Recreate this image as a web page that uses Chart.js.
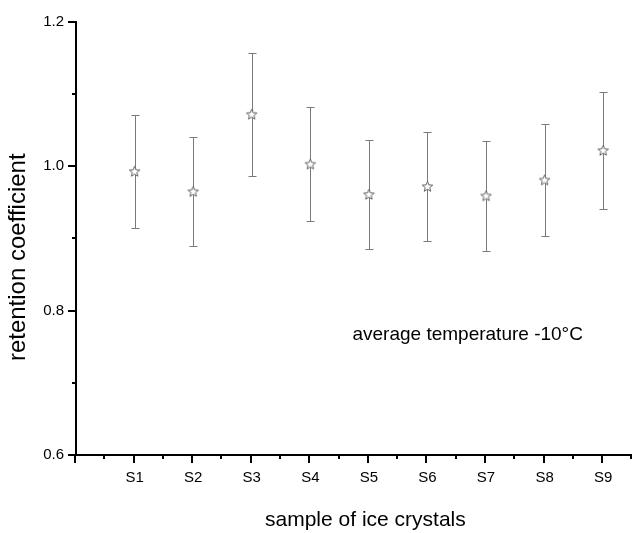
<!DOCTYPE html>
<html>
<head>
<meta charset="utf-8">
<script src="https://cdn.jsdelivr.net/npm/chart.js@4.4.0/dist/chart.umd.min.js"></script>
<style>body{margin:0;background:#fff}</style>
</head>
<body>
<canvas id="myChart" width="636" height="533"></canvas>
<script>
const categories = ['S1', 'S2', 'S3', 'S4', 'S5', 'S6', 'S7', 'S8', 'S9'];
const means = [0.993, 0.965, 1.072, 1.003, 0.961, 0.972, 0.959, 0.981, 1.022];
const errors = [0.078, 0.076, 0.085, 0.079, 0.075, 0.076, 0.076, 0.077, 0.081];
const yTicks = [0.6, 0.8, 1.0, 1.2];

const FONT = '"Liberation Sans", Arial, sans-serif';
const grey = '#7a7a7a';

// open star marker, white inside so the bar line stops at it
function makeStar() {
    const c = document.createElement('canvas');
    c.width = 13;
    c.height = 13;
    const g = c.getContext('2d');
    g.beginPath();
    for (let k = 0; k < 10; k++) {
        const r = k % 2 == 0 ? 5.5 : 2.4;
        const a = -Math.PI / 2 + k * Math.PI / 5;
        const px = 6.5 + r * Math.cos(a), py = 6.8 + r * Math.sin(a);
        if (k == 0) g.moveTo(px, py); else g.lineTo(px, py);
    }
    g.closePath();
    g.fillStyle = '#fff';
    g.fill();
    g.strokeStyle = '#555';
    g.lineWidth = 0.9;
    g.stroke();
    return c;
}

const errorBars = {
    id: 'errorBars',
    beforeDatasetsDraw(chart) {
        const {ctx, scales: {x, y}} = chart;
        ctx.save();
        ctx.strokeStyle = grey;
        ctx.lineWidth = 1;
        for (let i = 0; i < means.length; i++) {
            const px = Math.round(x.getPixelForValue(i + 1)) + 0.5;
            const top = Math.round(y.getPixelForValue(means[i] + errors[i])) + 0.5;
            const bot = Math.round(y.getPixelForValue(means[i] - errors[i])) + 0.5;
            ctx.beginPath();
            ctx.moveTo(px, top);
            ctx.lineTo(px, bot);
            ctx.moveTo(px - 4, top);
            ctx.lineTo(px + 4, top);
            ctx.moveTo(px - 4, bot);
            ctx.lineTo(px + 4, bot);
            ctx.stroke();
        }
        ctx.restore();
    }
};

const tickMarks = {
    id: 'tickMarks',
    afterDraw(chart) {
        const {ctx, scales: {x, y}, chartArea} = chart;
        ctx.save();
        ctx.strokeStyle = '#000';
        ctx.lineWidth = 2;
        ctx.beginPath();
        for (let v = 6; v <= 12; v++) {
            const py = Math.round(y.getPixelForValue(v / 10));
            const len = v % 2 == 0 ? 8 : 4;
            ctx.moveTo(chartArea.left, py);
            ctx.lineTo(chartArea.left - len, py);
        }
        for (let v = 0; v <= 19; v++) {
            const px = Math.round(x.getPixelForValue(v / 2));
            if (px > chart.width) break;
            const len = v % 2 == 0 ? 8 : 4;
            ctx.moveTo(px - 1, chartArea.bottom);
            ctx.lineTo(px - 1, chartArea.bottom + len);
        }
        ctx.stroke();

        ctx.fillStyle = '#000';
        ctx.textBaseline = 'middle';
        ctx.font = '19px ' + FONT;
        ctx.fillText('average temperature -10°C', x.getPixelForValue(4.72), y.getPixelForValue(0.766));

        // axis titles
        ctx.textAlign = 'center';
        ctx.font = '21px ' + FONT;
        ctx.fillText('sample of ice crystals', x.getPixelForValue(4.94), 520);
        ctx.translate(18, y.getPixelForValue(0.874));
        ctx.rotate(-Math.PI / 2);
        ctx.font = '24px ' + FONT;
        ctx.fillText('retention coefficient', 0, 0);
        ctx.restore();
    }
};

const data = {
    datasets: [{
        label: 'retention coefficient',
        data: categories.map((c, i) => ({x: i + 1, y: means[i]})),
        pointStyle: makeStar(),
        showLine: false
    }]
};

const options = {
    responsive: false,
    animation: false,
    events: [],
    layout: {padding: {top: 22, right: 0, left: 0, bottom: 0}},
    plugins: {legend: {display: false}, tooltip: {enabled: false}},
    scales: {
        x: {
            type: 'linear',
            min: 0,
            max: 9.475,
            afterFit: s => { s.height = 78; },
            afterBuildTicks: s => { s.ticks = categories.map((c, i) => ({value: i + 1})); },
            grid: {display: false, drawTicks: true, tickLength: 8},
            border: {display: true, color: '#000', width: 2},
            ticks: {
                autoSkip: false,
                maxRotation: 0,
                padding: 6,
                color: '#000',
                font: {family: FONT, size: 15},
                callback: v => categories[v - 1]
            }
        },
        y: {
            min: 0.6,
            max: 1.2,
            afterFit: s => { s.width = 76; },
            afterBuildTicks: s => { s.ticks = yTicks.map(v => ({value: v})); },
            grid: {display: false, drawTicks: true, tickLength: 8},
            border: {display: true, color: '#000', width: 2},
            ticks: {
                padding: 4,
                color: '#000',
                font: {family: FONT, size: 15},
                callback: v => v.toFixed(1)
            }
        }
    }
};

const config = {
    type: 'scatter',
    data,
    options,
    plugins: [errorBars, tickMarks]
};

var myChart = new Chart(
    document.getElementById('myChart'),
    config
);
</script>
</body>
</html>
